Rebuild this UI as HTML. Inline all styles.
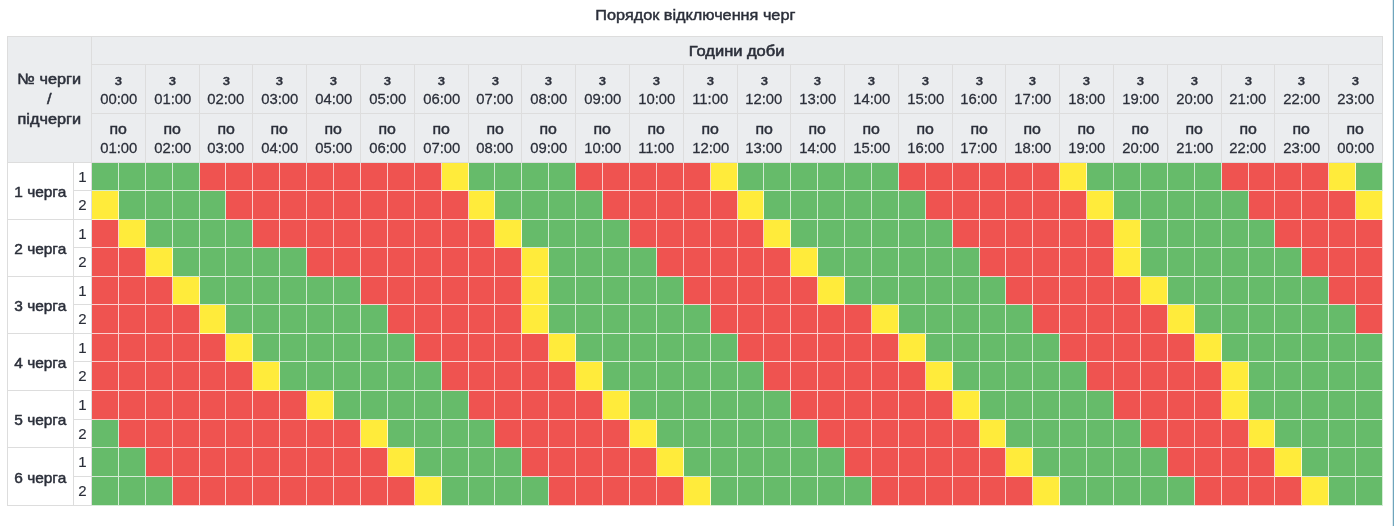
<!DOCTYPE html>
<html lang="uk">
<head>
<meta charset="utf-8">
<title>Порядок відключення черг</title>
<style>
html,body{margin:0;padding:0;background:#fff;}
body{width:1394px;height:526px;position:relative;overflow:hidden;font-family:"Liberation Sans",Arial,sans-serif;font-size:15px;line-height:20px;color:#2b2f3a;}
.title{position:absolute;left:7px;top:0;width:1376px;height:36px;text-align:center;font-size:15px;line-height:20px;padding-top:5px;box-sizing:border-box;}
.sb{display:inline-block;font-weight:normal;-webkit-text-stroke:.38px currentColor;transform-origin:50% 50%;}
.title .sb{-webkit-text-stroke-width:.45px;transform:translateY(-.4px) scaleX(1.083);}
th.hd .sb{-webkit-text-stroke-width:.55px;transform:translateY(-.4px) scaleX(1.097);}
th.no .sb{-webkit-text-stroke-width:.5px;transform:translateY(-.6px) scaleX(1.085);}
th .w{display:inline-block;-webkit-text-stroke:.42px currentColor;transform:translateY(.6px) scaleX(1.06);}
th .n{display:inline-block;-webkit-text-stroke:.25px currentColor;transform-origin:50% 100%;transform:translateY(.35px) scale(.99,1.02);}
td.q .sb{-webkit-text-stroke-width:.48px;transform:translateY(.55px) scaleX(1.03);}
table{position:absolute;left:7px;top:36px;border-collapse:separate;border-spacing:0;width:1376px;border-left:1px solid #ddd;border-top:1px solid #ddd;}
th,td{box-sizing:border-box;padding:0;border-right:1px solid #ddd;border-bottom:1px solid #ddd;text-align:center;vertical-align:middle;overflow:hidden;}
th{background:#ebedef;font-weight:normal;}
td.q{background:#fff;}
td.s{background:#fff;-webkit-text-stroke:.15px currentColor;}
td.g,td.r,td.y{border-color:rgba(255,255,255,.72);}
td.g{background:#66bb6a;}
td.r{background:#ef5350;}
td.y{background:#ffeb3b;}
.edge{position:absolute;right:0;top:0;width:2px;height:526px;background:linear-gradient(to right,#dde9ee 0,#dde9ee 50%,#6ea5bc 50%,#6ea5bc 100%);}
</style>
</head>
<body>
<div class="title"><span class="sb">Порядок відключення черг</span></div>
<table>
<colgroup>
<col style="width:66px">
<col style="width:18px">
<col style="width:27px">
<col style="width:27px">
<col style="width:27px">
<col style="width:27px">
<col style="width:26px">
<col style="width:27px">
<col style="width:27px">
<col style="width:27px">
<col style="width:27px">
<col style="width:27px">
<col style="width:27px">
<col style="width:27px">
<col style="width:27px">
<col style="width:27px">
<col style="width:26px">
<col style="width:27px">
<col style="width:27px">
<col style="width:27px">
<col style="width:27px">
<col style="width:27px">
<col style="width:27px">
<col style="width:27px">
<col style="width:27px">
<col style="width:27px">
<col style="width:26px">
<col style="width:27px">
<col style="width:27px">
<col style="width:27px">
<col style="width:27px">
<col style="width:27px">
<col style="width:27px">
<col style="width:27px">
<col style="width:27px">
<col style="width:26px">
<col style="width:27px">
<col style="width:27px">
<col style="width:27px">
<col style="width:27px">
<col style="width:27px">
<col style="width:27px">
<col style="width:27px">
<col style="width:27px">
<col style="width:27px">
<col style="width:26px">
<col style="width:27px">
<col style="width:27px">
<col style="width:27px">
<col style="width:27px">
</colgroup>
<thead>
<tr style="height:28px"><th class="no" rowspan="3" colspan="2"><span class="sb">№ черги<br>/<br>підчерги</span></th><th class="hd" colspan="48"><span class="sb">Години доби</span></th></tr>
<tr style="height:49px"><th colspan="2"><span class="w">з</span><br><span class="n">00:00</span></th><th colspan="2"><span class="w">з</span><br><span class="n">01:00</span></th><th colspan="2"><span class="w">з</span><br><span class="n">02:00</span></th><th colspan="2"><span class="w">з</span><br><span class="n">03:00</span></th><th colspan="2"><span class="w">з</span><br><span class="n">04:00</span></th><th colspan="2"><span class="w">з</span><br><span class="n">05:00</span></th><th colspan="2"><span class="w">з</span><br><span class="n">06:00</span></th><th colspan="2"><span class="w">з</span><br><span class="n">07:00</span></th><th colspan="2"><span class="w">з</span><br><span class="n">08:00</span></th><th colspan="2"><span class="w">з</span><br><span class="n">09:00</span></th><th colspan="2"><span class="w">з</span><br><span class="n">10:00</span></th><th colspan="2"><span class="w">з</span><br><span class="n">11:00</span></th><th colspan="2"><span class="w">з</span><br><span class="n">12:00</span></th><th colspan="2"><span class="w">з</span><br><span class="n">13:00</span></th><th colspan="2"><span class="w">з</span><br><span class="n">14:00</span></th><th colspan="2"><span class="w">з</span><br><span class="n">15:00</span></th><th colspan="2"><span class="w">з</span><br><span class="n">16:00</span></th><th colspan="2"><span class="w">з</span><br><span class="n">17:00</span></th><th colspan="2"><span class="w">з</span><br><span class="n">18:00</span></th><th colspan="2"><span class="w">з</span><br><span class="n">19:00</span></th><th colspan="2"><span class="w">з</span><br><span class="n">20:00</span></th><th colspan="2"><span class="w">з</span><br><span class="n">21:00</span></th><th colspan="2"><span class="w">з</span><br><span class="n">22:00</span></th><th colspan="2"><span class="w">з</span><br><span class="n">23:00</span></th></tr>
<tr style="height:49px"><th colspan="2"><span class="w">по</span><br><span class="n">01:00</span></th><th colspan="2"><span class="w">по</span><br><span class="n">02:00</span></th><th colspan="2"><span class="w">по</span><br><span class="n">03:00</span></th><th colspan="2"><span class="w">по</span><br><span class="n">04:00</span></th><th colspan="2"><span class="w">по</span><br><span class="n">05:00</span></th><th colspan="2"><span class="w">по</span><br><span class="n">06:00</span></th><th colspan="2"><span class="w">по</span><br><span class="n">07:00</span></th><th colspan="2"><span class="w">по</span><br><span class="n">08:00</span></th><th colspan="2"><span class="w">по</span><br><span class="n">09:00</span></th><th colspan="2"><span class="w">по</span><br><span class="n">10:00</span></th><th colspan="2"><span class="w">по</span><br><span class="n">11:00</span></th><th colspan="2"><span class="w">по</span><br><span class="n">12:00</span></th><th colspan="2"><span class="w">по</span><br><span class="n">13:00</span></th><th colspan="2"><span class="w">по</span><br><span class="n">14:00</span></th><th colspan="2"><span class="w">по</span><br><span class="n">15:00</span></th><th colspan="2"><span class="w">по</span><br><span class="n">16:00</span></th><th colspan="2"><span class="w">по</span><br><span class="n">17:00</span></th><th colspan="2"><span class="w">по</span><br><span class="n">18:00</span></th><th colspan="2"><span class="w">по</span><br><span class="n">19:00</span></th><th colspan="2"><span class="w">по</span><br><span class="n">20:00</span></th><th colspan="2"><span class="w">по</span><br><span class="n">21:00</span></th><th colspan="2"><span class="w">по</span><br><span class="n">22:00</span></th><th colspan="2"><span class="w">по</span><br><span class="n">23:00</span></th><th colspan="2"><span class="w">по</span><br><span class="n">00:00</span></th></tr>
</thead>
<tbody>
<tr style="height:28px"><td class="q" rowspan="2"><span class="sb">1 черга</span></td><td class="s">1</td><td class="g"></td><td class="g"></td><td class="g"></td><td class="g"></td><td class="r"></td><td class="r"></td><td class="r"></td><td class="r"></td><td class="r"></td><td class="r"></td><td class="r"></td><td class="r"></td><td class="r"></td><td class="y"></td><td class="g"></td><td class="g"></td><td class="g"></td><td class="g"></td><td class="r"></td><td class="r"></td><td class="r"></td><td class="r"></td><td class="r"></td><td class="y"></td><td class="g"></td><td class="g"></td><td class="g"></td><td class="g"></td><td class="g"></td><td class="g"></td><td class="r"></td><td class="r"></td><td class="r"></td><td class="r"></td><td class="r"></td><td class="r"></td><td class="y"></td><td class="g"></td><td class="g"></td><td class="g"></td><td class="g"></td><td class="g"></td><td class="r"></td><td class="r"></td><td class="r"></td><td class="r"></td><td class="y"></td><td class="g"></td></tr>
<tr style="height:29px"><td class="s">2</td><td class="y"></td><td class="g"></td><td class="g"></td><td class="g"></td><td class="g"></td><td class="r"></td><td class="r"></td><td class="r"></td><td class="r"></td><td class="r"></td><td class="r"></td><td class="r"></td><td class="r"></td><td class="r"></td><td class="y"></td><td class="g"></td><td class="g"></td><td class="g"></td><td class="g"></td><td class="r"></td><td class="r"></td><td class="r"></td><td class="r"></td><td class="r"></td><td class="y"></td><td class="g"></td><td class="g"></td><td class="g"></td><td class="g"></td><td class="g"></td><td class="g"></td><td class="r"></td><td class="r"></td><td class="r"></td><td class="r"></td><td class="r"></td><td class="r"></td><td class="y"></td><td class="g"></td><td class="g"></td><td class="g"></td><td class="g"></td><td class="g"></td><td class="r"></td><td class="r"></td><td class="r"></td><td class="r"></td><td class="y"></td></tr>
<tr style="height:28px"><td class="q" rowspan="2"><span class="sb">2 черга</span></td><td class="s">1</td><td class="r"></td><td class="y"></td><td class="g"></td><td class="g"></td><td class="g"></td><td class="g"></td><td class="r"></td><td class="r"></td><td class="r"></td><td class="r"></td><td class="r"></td><td class="r"></td><td class="r"></td><td class="r"></td><td class="r"></td><td class="y"></td><td class="g"></td><td class="g"></td><td class="g"></td><td class="g"></td><td class="r"></td><td class="r"></td><td class="r"></td><td class="r"></td><td class="r"></td><td class="y"></td><td class="g"></td><td class="g"></td><td class="g"></td><td class="g"></td><td class="g"></td><td class="g"></td><td class="r"></td><td class="r"></td><td class="r"></td><td class="r"></td><td class="r"></td><td class="r"></td><td class="y"></td><td class="g"></td><td class="g"></td><td class="g"></td><td class="g"></td><td class="g"></td><td class="r"></td><td class="r"></td><td class="r"></td><td class="r"></td></tr>
<tr style="height:29px"><td class="s">2</td><td class="r"></td><td class="r"></td><td class="y"></td><td class="g"></td><td class="g"></td><td class="g"></td><td class="g"></td><td class="g"></td><td class="r"></td><td class="r"></td><td class="r"></td><td class="r"></td><td class="r"></td><td class="r"></td><td class="r"></td><td class="r"></td><td class="y"></td><td class="g"></td><td class="g"></td><td class="g"></td><td class="g"></td><td class="r"></td><td class="r"></td><td class="r"></td><td class="r"></td><td class="r"></td><td class="y"></td><td class="g"></td><td class="g"></td><td class="g"></td><td class="g"></td><td class="g"></td><td class="g"></td><td class="r"></td><td class="r"></td><td class="r"></td><td class="r"></td><td class="r"></td><td class="y"></td><td class="g"></td><td class="g"></td><td class="g"></td><td class="g"></td><td class="g"></td><td class="g"></td><td class="r"></td><td class="r"></td><td class="r"></td></tr>
<tr style="height:28px"><td class="q" rowspan="2"><span class="sb">3 черга</span></td><td class="s">1</td><td class="r"></td><td class="r"></td><td class="r"></td><td class="y"></td><td class="g"></td><td class="g"></td><td class="g"></td><td class="g"></td><td class="g"></td><td class="g"></td><td class="r"></td><td class="r"></td><td class="r"></td><td class="r"></td><td class="r"></td><td class="r"></td><td class="y"></td><td class="g"></td><td class="g"></td><td class="g"></td><td class="g"></td><td class="g"></td><td class="r"></td><td class="r"></td><td class="r"></td><td class="r"></td><td class="r"></td><td class="y"></td><td class="g"></td><td class="g"></td><td class="g"></td><td class="g"></td><td class="g"></td><td class="g"></td><td class="r"></td><td class="r"></td><td class="r"></td><td class="r"></td><td class="r"></td><td class="y"></td><td class="g"></td><td class="g"></td><td class="g"></td><td class="g"></td><td class="g"></td><td class="g"></td><td class="r"></td><td class="r"></td></tr>
<tr style="height:29px"><td class="s">2</td><td class="r"></td><td class="r"></td><td class="r"></td><td class="r"></td><td class="y"></td><td class="g"></td><td class="g"></td><td class="g"></td><td class="g"></td><td class="g"></td><td class="g"></td><td class="r"></td><td class="r"></td><td class="r"></td><td class="r"></td><td class="r"></td><td class="y"></td><td class="g"></td><td class="g"></td><td class="g"></td><td class="g"></td><td class="g"></td><td class="g"></td><td class="r"></td><td class="r"></td><td class="r"></td><td class="r"></td><td class="r"></td><td class="r"></td><td class="y"></td><td class="g"></td><td class="g"></td><td class="g"></td><td class="g"></td><td class="g"></td><td class="r"></td><td class="r"></td><td class="r"></td><td class="r"></td><td class="r"></td><td class="y"></td><td class="g"></td><td class="g"></td><td class="g"></td><td class="g"></td><td class="g"></td><td class="g"></td><td class="r"></td></tr>
<tr style="height:28px"><td class="q" rowspan="2"><span class="sb">4 черга</span></td><td class="s">1</td><td class="r"></td><td class="r"></td><td class="r"></td><td class="r"></td><td class="r"></td><td class="y"></td><td class="g"></td><td class="g"></td><td class="g"></td><td class="g"></td><td class="g"></td><td class="g"></td><td class="r"></td><td class="r"></td><td class="r"></td><td class="r"></td><td class="r"></td><td class="y"></td><td class="g"></td><td class="g"></td><td class="g"></td><td class="g"></td><td class="g"></td><td class="g"></td><td class="r"></td><td class="r"></td><td class="r"></td><td class="r"></td><td class="r"></td><td class="r"></td><td class="y"></td><td class="g"></td><td class="g"></td><td class="g"></td><td class="g"></td><td class="g"></td><td class="r"></td><td class="r"></td><td class="r"></td><td class="r"></td><td class="r"></td><td class="y"></td><td class="g"></td><td class="g"></td><td class="g"></td><td class="g"></td><td class="g"></td><td class="g"></td></tr>
<tr style="height:29px"><td class="s">2</td><td class="r"></td><td class="r"></td><td class="r"></td><td class="r"></td><td class="r"></td><td class="r"></td><td class="y"></td><td class="g"></td><td class="g"></td><td class="g"></td><td class="g"></td><td class="g"></td><td class="g"></td><td class="r"></td><td class="r"></td><td class="r"></td><td class="r"></td><td class="r"></td><td class="y"></td><td class="g"></td><td class="g"></td><td class="g"></td><td class="g"></td><td class="g"></td><td class="g"></td><td class="r"></td><td class="r"></td><td class="r"></td><td class="r"></td><td class="r"></td><td class="r"></td><td class="y"></td><td class="g"></td><td class="g"></td><td class="g"></td><td class="g"></td><td class="g"></td><td class="r"></td><td class="r"></td><td class="r"></td><td class="r"></td><td class="r"></td><td class="y"></td><td class="g"></td><td class="g"></td><td class="g"></td><td class="g"></td><td class="g"></td></tr>
<tr style="height:29px"><td class="q" rowspan="2"><span class="sb">5 черга</span></td><td class="s">1</td><td class="r"></td><td class="r"></td><td class="r"></td><td class="r"></td><td class="r"></td><td class="r"></td><td class="r"></td><td class="r"></td><td class="y"></td><td class="g"></td><td class="g"></td><td class="g"></td><td class="g"></td><td class="g"></td><td class="r"></td><td class="r"></td><td class="r"></td><td class="r"></td><td class="r"></td><td class="y"></td><td class="g"></td><td class="g"></td><td class="g"></td><td class="g"></td><td class="g"></td><td class="g"></td><td class="r"></td><td class="r"></td><td class="r"></td><td class="r"></td><td class="r"></td><td class="r"></td><td class="y"></td><td class="g"></td><td class="g"></td><td class="g"></td><td class="g"></td><td class="g"></td><td class="r"></td><td class="r"></td><td class="r"></td><td class="r"></td><td class="y"></td><td class="g"></td><td class="g"></td><td class="g"></td><td class="g"></td><td class="g"></td></tr>
<tr style="height:28px"><td class="s">2</td><td class="g"></td><td class="r"></td><td class="r"></td><td class="r"></td><td class="r"></td><td class="r"></td><td class="r"></td><td class="r"></td><td class="r"></td><td class="r"></td><td class="y"></td><td class="g"></td><td class="g"></td><td class="g"></td><td class="g"></td><td class="r"></td><td class="r"></td><td class="r"></td><td class="r"></td><td class="r"></td><td class="y"></td><td class="g"></td><td class="g"></td><td class="g"></td><td class="g"></td><td class="g"></td><td class="g"></td><td class="r"></td><td class="r"></td><td class="r"></td><td class="r"></td><td class="r"></td><td class="r"></td><td class="y"></td><td class="g"></td><td class="g"></td><td class="g"></td><td class="g"></td><td class="g"></td><td class="r"></td><td class="r"></td><td class="r"></td><td class="r"></td><td class="y"></td><td class="g"></td><td class="g"></td><td class="g"></td><td class="g"></td></tr>
<tr style="height:29px"><td class="q" rowspan="2"><span class="sb">6 черга</span></td><td class="s">1</td><td class="g"></td><td class="g"></td><td class="r"></td><td class="r"></td><td class="r"></td><td class="r"></td><td class="r"></td><td class="r"></td><td class="r"></td><td class="r"></td><td class="r"></td><td class="y"></td><td class="g"></td><td class="g"></td><td class="g"></td><td class="g"></td><td class="r"></td><td class="r"></td><td class="r"></td><td class="r"></td><td class="r"></td><td class="y"></td><td class="g"></td><td class="g"></td><td class="g"></td><td class="g"></td><td class="g"></td><td class="g"></td><td class="r"></td><td class="r"></td><td class="r"></td><td class="r"></td><td class="r"></td><td class="r"></td><td class="y"></td><td class="g"></td><td class="g"></td><td class="g"></td><td class="g"></td><td class="g"></td><td class="r"></td><td class="r"></td><td class="r"></td><td class="r"></td><td class="y"></td><td class="g"></td><td class="g"></td><td class="g"></td></tr>
<tr style="height:29px"><td class="s">2</td><td class="g"></td><td class="g"></td><td class="g"></td><td class="r"></td><td class="r"></td><td class="r"></td><td class="r"></td><td class="r"></td><td class="r"></td><td class="r"></td><td class="r"></td><td class="r"></td><td class="y"></td><td class="g"></td><td class="g"></td><td class="g"></td><td class="g"></td><td class="r"></td><td class="r"></td><td class="r"></td><td class="r"></td><td class="r"></td><td class="y"></td><td class="g"></td><td class="g"></td><td class="g"></td><td class="g"></td><td class="g"></td><td class="g"></td><td class="r"></td><td class="r"></td><td class="r"></td><td class="r"></td><td class="r"></td><td class="r"></td><td class="y"></td><td class="g"></td><td class="g"></td><td class="g"></td><td class="g"></td><td class="g"></td><td class="r"></td><td class="r"></td><td class="r"></td><td class="r"></td><td class="y"></td><td class="g"></td><td class="g"></td></tr>
</tbody>
</table>
<div class="edge"></div>
</body>
</html>
